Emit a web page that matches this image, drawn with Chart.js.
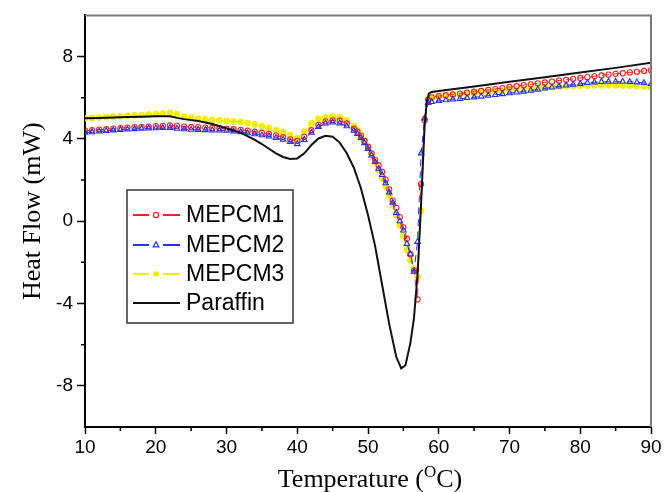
<!DOCTYPE html>
<html>
<head>
<meta charset="utf-8">
<script src="https://cdn.jsdelivr.net/npm/chart.js"></script>
<style>
  body{margin:0;background:#fff;}
  #c{display:block;}
</style>
</head>
<body>
<canvas id="c" width="666" height="492"></canvas>
<script>
// temperatures (deg C)
const tMep = [10,11,12,13,14,15,16,17,18,19,20,21,22,23,24,25,26,27,28,29,30,31,32,33,34,35,36,37,38,39,40,41,42,43,44,45,46,47,48,
  48.5,49,49.5,50,50.5,51,51.5,52,52.5,53,53.5,54,54.5,55,55.5,56,56.5,57,57.5,58,58.5,
  59,60,61,62,63,64,65,66,67,68,69,70,71,72,73,74,75,76,77,78,79,80,81,82,83,84,85,86,87,88,89,90];
const tPar = [10,12,14,16,18,20,22,23,24,26,28,30,32,34,35,36,37,38,39,40,41,42,43,44,45,46,47,48,49,50,51,52,53,54,54.7,55.3,56,56.5,57,57.5,58,58.3,58.6,59,60,65,70,75,80,85,90];

// heat flow (mW)
const mepcm1 = [4.40,4.42,4.45,4.47,4.50,4.52,4.55,4.57,4.58,4.60,4.62,4.63,4.65,4.63,4.60,4.58,4.57,4.55,4.53,4.52,4.50,4.47,4.44,4.40,4.35,4.30,4.24,4.17,4.08,3.98,3.90,4.10,4.42,4.68,4.85,4.90,4.88,4.75,4.50,
  4.35,4.15,3.90,3.62,3.30,2.98,2.72,2.40,2.02,1.55,1.00,0.65,0.20,-0.30,-0.85,-1.60,-2.40,-3.80,1.80,4.90,5.90,
  6.02,6.08,6.12,6.16,6.20,6.25,6.29,6.33,6.38,6.42,6.47,6.52,6.56,6.61,6.65,6.70,6.74,6.78,6.83,6.87,6.92,6.96,7.00,7.04,7.08,7.12,7.16,7.19,7.23,7.26,7.30,7.33];
const mepcm2 = [4.30,4.33,4.36,4.39,4.42,4.44,4.46,4.48,4.50,4.51,4.52,4.53,4.54,4.50,4.47,4.45,4.44,4.43,4.42,4.41,4.40,4.37,4.33,4.28,4.23,4.18,4.12,4.05,3.96,3.85,3.75,3.95,4.30,4.58,4.75,4.80,4.76,4.62,4.40,
  4.25,4.05,3.80,3.52,3.20,2.88,2.55,2.25,1.85,1.40,0.90,0.40,0.00,-0.45,-1.10,-1.60,-2.45,-1.00,3.30,5.00,5.75,
  5.80,5.85,5.88,5.92,5.95,5.99,6.02,6.06,6.10,6.14,6.18,6.22,6.26,6.30,6.35,6.40,6.45,6.50,6.55,6.60,6.64,6.68,6.72,6.75,6.77,6.78,6.78,6.78,6.77,6.75,6.72,6.68];
const mepcm3 = [5.00,5.02,5.04,5.06,5.08,5.10,5.12,5.14,5.16,5.18,5.20,5.23,5.27,5.20,5.08,5.02,4.98,4.95,4.92,4.90,4.88,4.85,4.82,4.77,4.70,4.62,4.53,4.43,4.32,4.18,4.02,4.35,4.75,4.98,5.05,5.08,5.05,4.90,4.62,
  4.42,4.20,3.92,3.60,3.25,2.88,2.50,2.10,1.70,1.25,0.78,0.30,-0.20,-0.70,-1.40,-1.90,-2.30,-2.70,0.50,5.00,5.95,
  6.00,6.05,6.08,6.12,6.15,6.18,6.21,6.25,6.28,6.31,6.34,6.37,6.40,6.43,6.46,6.48,6.50,6.52,6.54,6.56,6.57,6.58,6.59,6.60,6.60,6.60,6.60,6.59,6.58,6.57,6.55,6.50];
const paraffin = [5.00,5.02,5.04,5.06,5.08,5.10,5.10,5.02,4.96,4.87,4.72,4.52,4.30,3.95,3.75,3.52,3.30,3.12,3.02,3.05,3.30,3.70,4.02,4.15,4.10,3.82,3.30,2.60,1.60,0.30,-1.20,-3.10,-5.00,-6.60,-7.15,-7.00,-5.90,-4.70,-2.60,0.80,4.60,5.80,6.20,6.28,6.33,6.55,6.78,7.00,7.22,7.45,7.70];

const seriesNames = ['MEPCM1','MEPCM2','MEPCM3','Paraffin'];
const yTickValues = [-8,-4,0,4,8];
const yMinorValues = [-6,-2,2,6];
const xMinorValues = [15,25,35,45,55,65,75,85];

const pts = (xs, ys) => xs.map((x,i)=>({x:x, y:ys[i]}));

const styles = [
  {color:'#ff2020', shape:'circle', fill:false, r:2.6},
  {color:'#2030ff', shape:'triangle', fill:false, r:3.2},
  {color:'#f2ee00', shape:'circle', fill:true, r:2.8},
  {color:'#111111', shape:null}
];

function drawMarker(ctx, st, x, y){
  if(!st.shape) return;
  ctx.save();
  ctx.strokeStyle = st.color;
  ctx.fillStyle = st.color;
  ctx.lineWidth = 1.2;
  ctx.setLineDash([]);
  ctx.beginPath();
  if(st.shape==='circle'){
    ctx.arc(x, y, st.r, 0, Math.PI*2);
  } else {
    const r = st.r;
    ctx.moveTo(x, y - r);
    ctx.lineTo(x + r*0.9, y + r*0.6);
    ctx.lineTo(x - r*0.9, y + r*0.6);
    ctx.closePath();
  }
  if(st.fill) ctx.fill(); else ctx.stroke();
  ctx.restore();
}

const decor = {
  id:'decor',
  afterDraw(chart){
    const ctx = chart.ctx, a = chart.chartArea;
    const xs = chart.scales.x, ys = chart.scales.y;
    ctx.save();
    // top and right frame
    ctx.strokeStyle = '#7a7a7a';
    ctx.lineWidth = 2;
    ctx.beginPath();
    ctx.moveTo(a.left, a.top); ctx.lineTo(a.right, a.top); ctx.lineTo(a.right, a.bottom);
    ctx.stroke();
    // minor ticks
    ctx.strokeStyle = '#000';
    ctx.lineWidth = 1.5;
    ctx.beginPath();
    yMinorValues.forEach(v=>{
      const py = ys.getPixelForValue(v);
      ctx.moveTo(a.left - 4, py); ctx.lineTo(a.left, py);
    });
    xMinorValues.forEach(v=>{
      const px = xs.getPixelForValue(v);
      ctx.moveTo(px, a.bottom); ctx.lineTo(px, a.bottom + 4);
    });
    ctx.stroke();

    // y title
    ctx.fillStyle = '#000';
    ctx.font = '26px "Liberation Serif", "Times New Roman", serif';
    ctx.textAlign = 'center';
    ctx.textBaseline = 'middle';
    ctx.save();
    ctx.translate(33, (a.top + a.bottom)/2 - 10);
    ctx.rotate(-Math.PI/2);
    ctx.fillText('Heat Flow (mW)', 0, 0);
    ctx.restore();

    // x title with superscript O
    const big = '26px "Liberation Serif", "Times New Roman", serif';
    const small = '17px "Liberation Serif", "Times New Roman", serif';
    ctx.textAlign = 'left';
    ctx.textBaseline = 'alphabetic';
    ctx.font = big;
    const p1 = 'Temperature (', p3 = 'C)';
    const w1 = ctx.measureText(p1).width, w3 = ctx.measureText(p3).width;
    ctx.font = small;
    const w2 = ctx.measureText('O').width;
    const total = w1 + w2 + w3;
    let x0 = 370 - total/2;
    const base = 487;
    ctx.font = big; ctx.fillText(p1, x0, base);
    ctx.font = small; ctx.fillText('O', x0 + w1, base - 10);
    ctx.font = big; ctx.fillText(p3, x0 + w1 + w2, base);

    // legend box
    const lx = 127, ly = 190, lw = 166, lh = 133;
    ctx.fillStyle = '#fff';
    ctx.fillRect(lx, ly, lw, lh);
    ctx.strokeStyle = '#333';
    ctx.lineWidth = 1.5;
    ctx.strokeRect(lx, ly, lw, lh);
    const rows = [215, 245, 274, 303];
    ctx.font = '23px "Liberation Sans", Arial, sans-serif';
    ctx.textBaseline = 'middle';
    seriesNames.forEach((name, i)=>{
      const st = styles[i], y = rows[i];
      ctx.strokeStyle = st.color;
      ctx.lineWidth = i===3 ? 2 : 1.8;
      ctx.beginPath();
      if(st.shape){
        ctx.moveTo(133, y); ctx.lineTo(149, y);
        ctx.moveTo(163, y); ctx.lineTo(180, y);
      } else {
        ctx.moveTo(133, y); ctx.lineTo(180, y);
      }
      ctx.stroke();
      drawMarker(ctx, st, 156, y);
      ctx.fillStyle = '#000';
      ctx.fillText(name, 186, y + 1);
    });
    ctx.restore();
  }
};

const mk = (i, xs, ys, ord) => {
  const st = styles[i];
  return {
    label: seriesNames[i],
    data: pts(xs, ys),
    showLine: true,
    borderColor: st.color,
    borderWidth: st.shape ? 1 : 2,
    borderDash: st.shape ? [7,5] : [],
    pointStyle: st.shape || false,
    pointRadius: st.shape ? st.r : 0,
    pointBorderColor: st.color,
    pointBorderWidth: 1.1,
    pointBackgroundColor: st.fill ? st.color : 'rgba(0,0,0,0)',
    tension: 0,
    order: ord
  };
};

new Chart(document.getElementById('c'), {
  type: 'scatter',
  data: {
    datasets: [
      mk(0, tMep, mepcm1, 3),
      mk(1, tMep, mepcm2, 2),
      mk(2, tMep, mepcm3, 4),
      mk(3, tPar, paraffin, 1)
    ]
  },
  options: {
    responsive: false,
    devicePixelRatio: 1,
    animation: false,
    layout: {padding: {left: 0, top: 11, right: 15, bottom: 0}},
    plugins: {legend: {display: false}, tooltip: {enabled: false}},
    scales: {
      x: {
        type: 'linear', min: 10, max: 90,
        ticks: {stepSize: 10, color: '#000', padding: 2,
          font: {family: '"Liberation Sans", Arial, sans-serif', size: 19}},
        grid: {drawOnChartArea: false, tickLength: 7, tickColor: '#000', tickWidth: 1.5},
        border: {color: '#000', width: 2},
        afterFit: s => { s.height = 65; }
      },
      y: {
        type: 'linear', min: -10, max: 10,
        afterBuildTicks: s => { s.ticks = yTickValues.map(v => ({value: v})); },
        ticks: {color: '#000', padding: 4,
          font: {family: '"Liberation Sans", Arial, sans-serif', size: 19}},
        grid: {drawOnChartArea: false, tickLength: 8, tickColor: '#000', tickWidth: 1.5},
        border: {color: '#000', width: 2},
        afterFit: s => { s.width = 85; }
      }
    }
  },
  plugins: [decor]
});
</script>
</body>
</html>
